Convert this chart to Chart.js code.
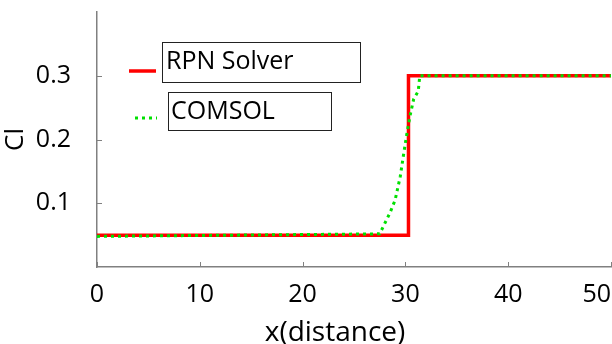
<!DOCTYPE html>
<html>
<head>
<meta charset="utf-8">
<script src="https://cdn.jsdelivr.net/npm/chart.js@4/dist/chart.umd.min.js"></script>
<style>
  html, body { margin: 0; padding: 0; background: #fff; }
  #wrap { width: 612px; height: 344px; position: relative; }
</style>
</head>
<body>
<div id="wrap"><canvas id="chart" width="612" height="344"></canvas></div>
<script>
// values
const rpnX = [0, 30.3, 30.3, 50];
const rpnY = [0.05, 0.05, 0.30, 0.30];
const comsolX = [0, 27.5, 28.5, 29.0, 29.5, 29.8, 30.1, 30.45, 30.8, 31.25, 31.4, 50];
const comsolY = [0.048, 0.052, 0.085, 0.105, 0.142, 0.174, 0.205, 0.237, 0.263, 0.276, 0.30, 0.30];
const xTicks = [0, 10, 20, 30, 40, 50];
const yTicks = [0.1, 0.2, 0.3];
const seriesNames = ['RPN Solver', 'COMSOL'];
const xTitle = 'x(distance)';

const FONT = '"Open Sans", "Noto Sans", sans-serif';
const AXIS = '#808080';

const toPts = (xs, ys) => xs.map((x, i) => ({ x: x, y: ys[i] }));

// inward tick marks, x labels/title and boxed legend like the original
const decor = {
    id: 'decor',
    afterDraw(chart) {
        const ctx = chart.ctx, xs = chart.scales.x, ys = chart.scales.y, a = chart.chartArea;
        const W = chart.width;
        ctx.save();
        ctx.strokeStyle = AXIS;
        ctx.lineWidth = 1;
        xTicks.forEach(v => {
            const px = Math.round(xs.getPixelForValue(v)) + 0.5;
            ctx.beginPath(); ctx.moveTo(px, a.bottom); ctx.lineTo(px, a.bottom - 5); ctx.stroke();
        });
        yTicks.forEach(v => {
            const py = Math.round(ys.getPixelForValue(v)) + 0.5;
            ctx.beginPath(); ctx.moveTo(a.left, py); ctx.lineTo(a.left + 5, py); ctx.stroke();
        });

        // x tick labels, last one kept inside the canvas
        ctx.fillStyle = '#000';
        ctx.font = '25px ' + FONT;
        ctx.textAlign = 'center';
        ctx.textBaseline = 'alphabetic';
        xTicks.forEach(v => {
            const label = String(v);
            const w = ctx.measureText(label).width;
            let px = xs.getPixelForValue(v);
            if (px + w / 2 > W - 1) px = W - 1 - w / 2;
            ctx.fillText(label, px, 302);
        });

        ctx.font = '28px ' + FONT;
        ctx.fillText(xTitle, 335, 341);

        // legend
        ctx.textAlign = 'left';
        ctx.font = '25px ' + FONT;
        ctx.textBaseline = 'middle';
        ctx.strokeStyle = '#222';
        ctx.lineWidth = 1;
        ctx.strokeRect(162.5, 42.5, 198, 40);
        ctx.fillText(seriesNames[0], 166, 62);
        ctx.strokeRect(168.5, 92.5, 163, 38);
        ctx.fillText(seriesNames[1], 171, 112);

        ctx.strokeStyle = '#ff0000';
        ctx.lineWidth = 3.5;
        ctx.beginPath(); ctx.moveTo(129, 71); ctx.lineTo(156, 71); ctx.stroke();
        ctx.strokeStyle = '#00e000';
        ctx.lineWidth = 3;
        ctx.setLineDash([3, 4]);
        ctx.beginPath(); ctx.moveTo(135, 118); ctx.lineTo(157, 118); ctx.stroke();
        ctx.restore();
    }
};

new Chart(document.getElementById('chart'), {
    type: 'scatter',
    data: {
        datasets: [
            {
                label: seriesNames[1],
                data: toPts(comsolX, comsolY),
                showLine: true,
                borderColor: '#00e000',
                borderWidth: 3,
                borderDash: [3, 4],
                pointRadius: 0,
                tension: 0
            },
            {
                label: seriesNames[0],
                data: toPts(rpnX, rpnY),
                showLine: true,
                borderColor: '#ff0000',
                borderWidth: 3.5,
                pointRadius: 0,
                tension: 0
            }
        ]
    },
    options: {
        responsive: false,
        animation: false,
        layout: { padding: { top: 12, right: 1, left: 0, bottom: 0 } },
        plugins: { legend: { display: false }, tooltip: { enabled: false } },
        scales: {
            x: {
                type: 'linear',
                min: 0, max: 50,
                afterFit: s => { s.height = 77; s.paddingLeft = 0; s.paddingRight = 0; },
                afterBuildTicks: s => { s.ticks = xTicks.map(v => ({ value: v })); },
                grid: { display: false },
                border: { display: true, color: AXIS, width: 1.5 },
                ticks: { display: false }
            },
            y: {
                type: 'linear',
                min: 0, max: 0.4,
                afterFit: s => { s.width = 97; s.paddingTop = 0; s.paddingBottom = 0; },
                afterBuildTicks: s => { s.ticks = yTicks.map(v => ({ value: v })); },
                grid: { display: false },
                border: { display: true, color: AXIS, width: 1.5 },
                ticks: {
                    color: '#000', padding: 18, font: { family: FONT, size: 25 },
                    callback: v => v.toFixed(1)
                },
                title: {
                    display: true, text: 'Cl', color: '#000',
                    font: { family: FONT, size: 26 }, padding: { top: 0, bottom: 0 }
                }
            }
        }
    },
    plugins: [decor]
});
</script>
</body>
</html>
